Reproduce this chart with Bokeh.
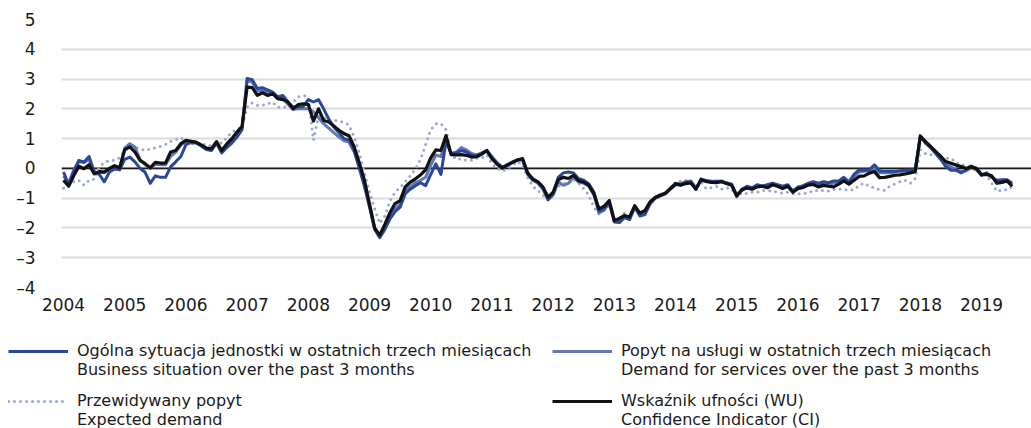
import numpy as np
from bokeh.plotting import figure
from bokeh.layouts import column
from bokeh.models import Range1d, Span, Legend, LegendItem, FixedTicker, ColumnDataSource
from bokeh.embed import file_html
from bokeh.resources import INLINE

# ---------------- data (monthly, Jan 2004 - Jul 2019) ----------------
years = [str(y) for y in range(2004, 2020)]

# Ogólna sytuacja jednostki w ostatnich trzech miesiącach / Business situation
business = [
    -0.12, -0.55, -0.10, 0.27, 0.21, 0.40, -0.10, -0.20, -0.45, -0.12, -0.02, -0.05,   # 2004
    0.30, 0.38, 0.22, 0.00, -0.13, -0.50, -0.25, -0.30, -0.30, 0.05, 0.22, 0.40,        # 2005
    0.80, 0.87, 0.85, 0.75, 0.63, 0.60, 0.85, 0.52, 0.70, 0.85, 1.05, 1.30,             # 2006
    3.02, 2.98, 2.68, 2.71, 2.64, 2.56, 2.40, 2.45, 2.23, 2.06, 2.06, 2.08,             # 2007
    2.31, 2.23, 2.31, 2.00, 1.66, 1.39, 1.20, 1.00, 0.95, 0.60, 0.00, -0.60,            # 2008
    -1.30, -2.05, -2.33, -2.05, -1.70, -1.45, -1.30, -0.85, -0.70, -0.58, -0.48, -0.58, # 2009
    -0.20, 0.15, -0.20, 0.90, 0.50, 0.52, 0.60, 0.55, 0.45, 0.42, 0.50, 0.60,           # 2010
    0.35, 0.15, 0.00, 0.10, 0.20, 0.28, 0.30, -0.20, -0.38, -0.45, -0.65, -1.05,        # 2011
    -0.85, -0.30, -0.15, -0.12, -0.15, -0.35, -0.40, -0.52, -0.80, -1.45, -1.35, -1.15, # 2012
    -1.80, -1.82, -1.65, -1.72, -1.30, -1.60, -1.55, -1.20, -1.00, -0.92, -0.85, -0.70, # 2013
    -0.55, -0.55, -0.45, -0.45, -0.70, -0.35, -0.42, -0.43, -0.45, -0.42, -0.50, -0.55, # 2014
    -0.95, -0.70, -0.60, -0.65, -0.55, -0.60, -0.55, -0.50, -0.55, -0.60, -0.55, -0.78, # 2015
    -0.65, -0.58, -0.50, -0.45, -0.50, -0.45, -0.48, -0.42, -0.42, -0.30, -0.45, -0.20, # 2016
    -0.05, -0.05, -0.05, 0.12, -0.08, -0.10, -0.10, -0.10, -0.08, -0.06, -0.05, -0.05,  # 2017
    1.10, 0.85, 0.70, 0.50, 0.30, 0.06, -0.06, -0.06, -0.15, -0.05, 0.08, -0.02,        # 2018
    -0.23, -0.15, -0.30, -0.40, -0.38, -0.38, -0.50,                                    # 2019
]

# Popyt na usługi w ostatnich trzech miesiącach / Demand for services
demand = [
    -0.25, -0.50, -0.05, 0.22, 0.20, 0.30, -0.15, -0.12, -0.15, 0.00, 0.05, 0.00,
    0.68, 0.83, 0.72, 0.30, 0.12, 0.00, 0.15, 0.12, 0.12, 0.40, 0.55, 0.78,
    0.90, 0.90, 0.86, 0.77, 0.65, 0.62, 0.88, 0.55, 0.75, 0.90, 1.10, 1.35,
    2.95, 2.90, 2.60, 2.62, 2.55, 2.50, 2.35, 2.38, 2.15, 1.98, 2.00, 2.00,
    2.00, 1.90, 1.70, 1.50, 1.35, 1.20, 1.05, 0.93, 0.88, 0.55, 0.05, -0.55,
    -1.25, -2.00, -2.28, -1.95, -1.60, -1.35, -1.20, -0.75, -0.60, -0.48, -0.40, -0.30,
    0.10, 0.45, 0.40, 1.00, 0.50, 0.55, 0.70, 0.62, 0.50, 0.45, 0.52, 0.60,
    0.40, 0.20, 0.05, 0.10, 0.22, 0.28, 0.30, -0.15, -0.40, -0.50, -0.70, -1.05,
    -0.90, -0.45, -0.57, -0.50, -0.30, -0.45, -0.50, -0.60, -0.90, -1.50, -1.40, -1.15,
    -1.78, -1.75, -1.60, -1.68, -1.28, -1.55, -1.50, -1.15, -0.98, -0.88, -0.82, -0.65,
    -0.52, -0.50, -0.48, -0.42, -0.65, -0.40, -0.40, -0.45, -0.42, -0.45, -0.48, -0.52,
    -0.90, -0.75, -0.62, -0.68, -0.60, -0.58, -0.62, -0.52, -0.58, -0.65, -0.58, -0.75,
    -0.62, -0.60, -0.52, -0.48, -0.55, -0.50, -0.52, -0.50, -0.45, -0.35, -0.48, -0.28,
    -0.12, -0.10, -0.08, 0.05, -0.15, -0.15, -0.15, -0.12, -0.10, -0.10, -0.08, -0.05,
    1.05, 0.88, 0.72, 0.55, 0.35, 0.15, 0.05, -0.05, -0.10, -0.08, 0.02, -0.05,
    -0.20, -0.18, -0.28, -0.42, -0.42, -0.42, -0.55,
]

# Przewidywany popyt / Expected demand
expected = [
    -0.67, -0.55, -0.45, -0.40, -0.56, -0.40, -0.36, 0.05, 0.20, 0.27, 0.27, 0.35,
    0.60, 0.74, 0.70, 0.66, 0.60, 0.65, 0.69, 0.74, 0.80, 0.91, 0.97, 1.03,
    0.90, 0.83, 0.83, 0.85, 0.77, 0.77, 0.88, 0.85, 1.03, 1.22, 1.30, 1.39,
    2.06, 2.20, 2.12, 2.12, 2.17, 2.23, 2.06, 2.04, 2.10, 2.20, 2.40, 2.45,
    2.40, 0.95, 1.75, 1.70, 1.60, 1.62, 1.58, 1.55, 1.45, 1.05, 0.52, -0.15,
    -0.80, -1.35, -1.85, -1.60, -1.09, -0.80, -0.64, -0.45, -0.25, -0.02, 0.30, 0.80,
    1.30, 1.50, 1.50, 1.30, 0.50, 0.30, 0.32, 0.27, 0.27, 0.34, 0.34, 0.45,
    0.15, 0.00, -0.09, -0.02, 0.10, 0.23, 0.12, -0.30, -0.60, -0.74, -0.90, -1.05,
    -0.80, -0.60, -0.51, -0.51, -0.36, -0.50, -0.68, -0.90, -1.30, -1.53, -1.42, -1.22,
    -1.70, -1.70, -1.50, -1.60, -1.30, -1.50, -1.40, -1.10, -1.00, -0.95, -0.85, -0.70,
    -0.45, -0.43, -0.40, -0.50, -0.70, -0.45, -0.68, -0.65, -0.60, -0.70, -0.65, -0.70,
    -0.95, -0.82, -0.85, -0.80, -0.80, -0.74, -0.74, -0.76, -0.80, -0.83, -0.80, -0.85,
    -0.85, -0.84, -0.83, -0.74, -0.74, -0.74, -0.76, -0.70, -0.68, -0.72, -0.72, -0.72,
    -0.57, -0.49, -0.60, -0.65, -0.72, -0.74, -0.60, -0.52, -0.45, -0.40, -0.50, -0.34,
    0.63, 0.50, 0.45, 0.51, 0.40, 0.34, 0.34, 0.20, 0.11, 0.11, 0.05, 0.00,
    -0.11, -0.23, -0.50, -0.77, -0.72, -0.72, -0.60,
]

# Wskaźnik ufności (WU) / Confidence Indicator (CI)
confidence = [
    -0.40, -0.60, -0.25, 0.07, -0.01, 0.12, -0.18, -0.11, -0.12, 0.00, 0.09, 0.02,
    0.63, 0.72, 0.55, 0.27, 0.16, 0.02, 0.20, 0.18, 0.18, 0.55, 0.60, 0.83,
    0.94, 0.91, 0.88, 0.79, 0.68, 0.66, 0.90, 0.60, 0.82, 1.00, 1.22, 1.41,
    2.73, 2.71, 2.45, 2.54, 2.45, 2.51, 2.34, 2.31, 2.23, 2.00, 2.14, 2.17,
    2.14, 1.59, 2.00, 1.61, 1.56, 1.42, 1.28, 1.17, 1.09, 0.72, 0.18, -0.40,
    -1.20, -2.00, -2.24, -1.88, -1.49, -1.18, -1.08, -0.62, -0.46, -0.35, -0.22, -0.05,
    0.35, 0.62, 0.60, 1.10, 0.46, 0.45, 0.46, 0.44, 0.38, 0.39, 0.48, 0.60,
    0.33, 0.15, 0.02, 0.12, 0.20, 0.28, 0.33, -0.15, -0.35, -0.45, -0.62, -0.97,
    -0.80, -0.38, -0.30, -0.34, -0.23, -0.42, -0.46, -0.57, -0.85, -1.36, -1.27, -1.08,
    -1.75, -1.68, -1.58, -1.63, -1.25, -1.50, -1.42, -1.13, -0.98, -0.90, -0.84, -0.68,
    -0.51, -0.57, -0.51, -0.49, -0.70, -0.38, -0.44, -0.47, -0.48, -0.45, -0.51, -0.57,
    -0.91, -0.72, -0.66, -0.70, -0.62, -0.60, -0.65, -0.55, -0.60, -0.68, -0.60, -0.80,
    -0.68, -0.64, -0.56, -0.54, -0.62, -0.57, -0.60, -0.62, -0.53, -0.42, -0.53, -0.40,
    -0.27, -0.25, -0.16, -0.10, -0.31, -0.30, -0.27, -0.23, -0.22, -0.19, -0.15, -0.11,
    1.08, 0.91, 0.74, 0.57, 0.40, 0.23, 0.17, 0.11, 0.06, 0.00, 0.05, 0.00,
    -0.22, -0.20, -0.25, -0.50, -0.47, -0.42, -0.60,
]

labels_pl = ["Ogólna sytuacja jednostki w ostatnich trzech miesiącach",
             "Popyt na usługi w ostatnich trzech miesiącach",
             "Przewidywany popyt",
             "Wskaźnik ufności (WU)"]
labels_en = ["Business situation over the past 3 months",
             "Demand for services over the past 3 months",
             "Expected demand",
             "Confidence Indicator (CI)"]
y_ticks = [-4, -3, -2, -1, 0, 1, 2, 3, 4, 5]

FONT = "DejaVu Sans"
TXT = "#1a1a1a"
STY = dict(
    bs=dict(line_color="#2c4796", line_width=3, line_join="round"),
    ds=dict(line_color="#5f78b8", line_width=3, line_join="round"),
    ex=dict(line_color="#9ba8d0", line_width=3, line_dash="0 6", line_cap="round"),
    ci=dict(line_color="#111111", line_width=3.2, line_join="round"),
)

# ---------------- main chart ----------------
months = list(range(len(confidence)))
src = ColumnDataSource(dict(m=months, bs=business, ds=demand, ex=expected, ci=confidence))

p = figure(width=1031, height=318, output_backend="svg", toolbar_location=None,
           x_range=Range1d(-0.4, 189.8), y_range=Range1d(-4, 5),
           min_border_left=61, min_border_right=0, min_border_top=19, min_border_bottom=31)
p.outline_line_color = None
p.frame_align = False

p.xgrid.grid_line_color = None
p.ygrid.grid_line_color = "#dcdcdc"
p.ygrid.grid_line_width = 2
p.ygrid.ticker = FixedTicker(ticks=y_ticks)

p.xaxis.ticker = FixedTicker(ticks=[12 * i for i in range(len(years))])
p.xaxis.major_label_overrides = {12 * i: y for i, y in enumerate(years)}
p.yaxis.ticker = FixedTicker(ticks=y_ticks)
p.yaxis.major_label_overrides = {t: (str(t).replace("-", "\u2013")) for t in y_ticks}
for ax in (p.xaxis, p.yaxis):
    ax.axis_line_color = None
    ax.major_tick_line_color = None
    ax.minor_tick_line_color = None
    ax.major_label_text_font = FONT
    ax.major_label_text_font_size = "17px"
    ax.major_label_text_color = TXT
p.xaxis.major_label_standoff = 4
p.yaxis.major_label_standoff = 20

p.add_layout(Span(location=0, dimension="width", line_color=TXT, line_width=1.6, level="underlay"))

p.line("m", "ex", source=src, **STY["ex"])
p.line("m", "ds", source=src, **STY["ds"])
p.line("m", "bs", source=src, **STY["bs"])
p.line("m", "ci", source=src, **STY["ci"])

# ---------------- legend panel ----------------
lp = figure(width=1031, height=110, output_backend="svg", toolbar_location=None,
            x_range=Range1d(0, 1), y_range=Range1d(0, 1),
            x_axis_location=None, y_axis_location=None,
            min_border_left=8, min_border_right=0, min_border_top=23, min_border_bottom=0)
lp.outline_line_color = None
lp.frame_align = False
lp.xgrid.grid_line_color = None
lp.ygrid.grid_line_color = None

# legend-only renderers (no visible data)
blank = ColumnDataSource(dict(x=np.array([np.nan, np.nan]), y=np.array([np.nan, np.nan])))
g_bs = lp.line("x", "y", source=blank, **STY["bs"])
g_ex = lp.line("x", "y", source=blank, **STY["ex"])
g_ds = lp.line("x", "y", source=blank, **STY["ds"])
g_ci = lp.line("x", "y", source=blank, **STY["ci"])
g_no = lp.line("x", "y", source=blank, line_alpha=0)

def item(text, r):
    return LegendItem(label=text, renderers=[r])

leg = Legend(items=[item(labels_pl[0], g_bs), item(labels_en[0], g_no), item(" ", g_no),
                    item(labels_pl[2], g_ex), item(labels_en[2], g_no),
                    item(labels_pl[1], g_ds), item(labels_en[1], g_no), item(" ", g_no),
                    item(labels_pl[3], g_ci), item(labels_en[3], g_no)],
             location="top_left", orientation="vertical", ncols=2,
             glyph_width=60, glyph_height=12, label_standoff=9, spacing=-1,
             label_height=0, label_width=475,
             padding=0, margin=0, border_line_alpha=0, background_fill_alpha=0,
             label_text_font=FONT, label_text_font_size="16px", label_text_color=TXT)
lp.add_layout(leg)

open("out.html", "w").write(file_html(column(p, lp), INLINE))
